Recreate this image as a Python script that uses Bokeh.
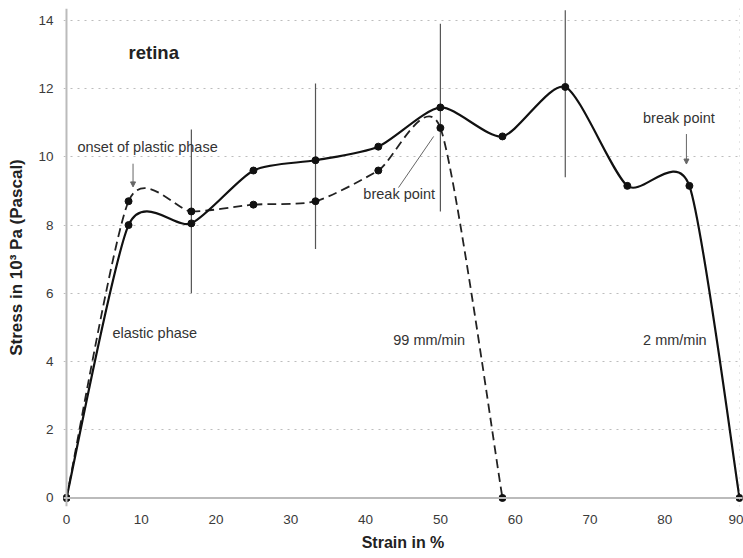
import numpy as np
from bokeh.plotting import figure
from bokeh.models import Range1d, FixedTicker, Span, Label, Arrow, NormalHead, ColumnDataSource
from bokeh.embed import file_html
from bokeh.resources import INLINE

# ---- data ----
strain_2 = [0, 8.3, 16.7, 25, 33.3, 41.7, 50, 58.3, 66.7, 75, 83.3, 90]
stress_2 = [0, 8.0, 8.05, 9.6, 9.9, 10.3, 11.45, 10.6, 12.05, 9.15, 9.15, 0]
strain_99 = [0, 8.3, 16.7, 25, 33.3, 41.7, 50, 58.3]
stress_99 = [0, 8.7, 8.4, 8.6, 8.7, 9.6, 10.85, 0]
err_x = [16.7, 33.3, 50, 66.7]
err_lo = [6.0, 7.3, 8.4, 9.4]
err_hi = [10.8, 12.15, 13.9, 14.3]
x_ticks = [0, 10, 20, 30, 40, 50, 60, 70, 80, 90]
y_ticks = [0, 2, 4, 6, 8, 10, 12, 14]

FONT = "Liberation Sans"
SMOOTH = 0.12


def smooth_segments(xs, ys, k=SMOOTH):
    x = np.asarray(xs, float)
    y = np.asarray(ys, float)
    n = len(x)
    idx = np.arange(n - 1)
    prev = np.clip(idx - 1, 0, n - 1)
    nxt = idx + 1
    nxt2 = np.clip(idx + 2, 0, n - 1)
    return dict(
        x0=x[idx], y0=y[idx], x1=x[nxt], y1=y[nxt],
        cx0=x[idx] + k * (x[nxt] - x[prev]), cy0=y[idx] + k * (y[nxt] - y[prev]),
        cx1=x[nxt] - k * (x[nxt2] - x[idx]), cy1=y[nxt] - k * (y[nxt2] - y[idx]),
    )


p = figure(width=743, height=558, output_backend="svg", toolbar_location=None,
           x_range=Range1d(-0.4, 90.4), y_range=Range1d(-0.25, 14.35),
           min_border_left=63, min_border_right=1, min_border_top=8, min_border_bottom=52)
p.outline_line_color = None
p.background_fill_color = "white"
p.border_fill_color = "white"

# axes
for ax, ticks in ((p.xaxis, x_ticks), (p.yaxis, y_ticks)):
    ax.ticker = FixedTicker(ticks=ticks)
    ax.bounds = (ticks[0], ticks[-1])
    ax.axis_line_color = None
    ax.major_tick_line_color = None
    ax.minor_tick_line_color = None
    ax.major_tick_out = 0
    ax.major_label_text_font = FONT
    ax.major_label_text_font_size = "13.5px"
    ax.major_label_text_color = "#3a3a3a"
    ax.axis_label_text_font = FONT
    ax.axis_label_text_font_style = "bold"
    ax.axis_label_text_color = "#222222"

p.xaxis.axis_label = "Strain in %"
p.yaxis.axis_label = "Stress in 10³ Pa (Pascal)"
p.xaxis.axis_label_text_font_size = "16px"
p.yaxis.axis_label_text_font_size = "17px"
p.xaxis.major_label_standoff = 8
p.xaxis.axis_label_standoff = 7
p.yaxis.major_label_standoff = 10
p.yaxis.axis_label_standoff = 9

p.xgrid.grid_line_color = None
p.ygrid.ticker = FixedTicker(ticks=y_ticks[1:])
p.ygrid.grid_line_color = "#bdbdbd"
p.ygrid.grid_line_dash = "2 5"
p.ygrid.grid_line_width = 1

p.add_layout(Span(location=0, dimension="width", line_color="#bbbbbb", line_width=2))
p.add_layout(Span(location=0, dimension="height", line_color="#bbbbbb", line_width=2))
p.add_layout(Span(location=90, dimension="height", line_color="#cccccc", line_width=1, line_dash="1 6"))

# error bars
p.segment(x0=err_x, y0=err_lo, x1=err_x, y1=err_hi, line_color="#555555", line_width=1.2)

# curves
s2 = ColumnDataSource(smooth_segments(strain_2, stress_2))
s99 = ColumnDataSource(smooth_segments(strain_99, stress_99))
p.bezier(x0="x0", y0="y0", x1="x1", y1="y1", cx0="cx0", cy0="cy0", cx1="cx1", cy1="cy1",
         source=s99, line_color="#222222", line_width=1.8, line_dash="9 5")
p.bezier(x0="x0", y0="y0", x1="x1", y1="y1", cx0="cx0", cy0="cy0", cx1="cx1", cy1="cy1",
         source=s2, line_color="#111111", line_width=2.2)
p.scatter(strain_99, stress_99, size=7, color="#111111")
p.scatter(strain_2, stress_2, size=7, color="#111111")

# annotations
def label(x, y, text, size="14.5px", bold=False, color="#333333"):
    p.add_layout(Label(x=x, y=y, text=text, text_font=FONT, text_font_size=size,
                       text_font_style="bold" if bold else "normal",
                       text_color=color, text_baseline="middle", text_align="left"))

label(8.3, 13.05, "retina", size="18.5px", bold=True, color="#222222")
label(1.47, 10.29, "onset of plastic phase")
label(39.7, 8.91, "break point")
label(77.1, 11.14, "break point")
label(6.15, 4.84, "elastic phase")
label(43.7, 4.63, "99 mm/min")
label(77.1, 4.63, "2 mm/min")

p.add_layout(Arrow(x_start=8.9, y_start=9.8, x_end=8.9, y_end=9.12, line_color="#666666", line_width=1,
                   end=NormalHead(size=5, fill_color="#666666", line_color="#666666")))
p.add_layout(Arrow(x_start=82.9, y_start=10.67, x_end=82.9, y_end=9.79, line_color="#666666", line_width=1,
                   end=NormalHead(size=5, fill_color="#666666", line_color="#666666")))
p.segment(x0=[44.4], y0=[9.1], x1=[49.1], y1=[10.6], line_color="#666666", line_width=1)

open("out.html", "w").write(file_html(p, INLINE))
